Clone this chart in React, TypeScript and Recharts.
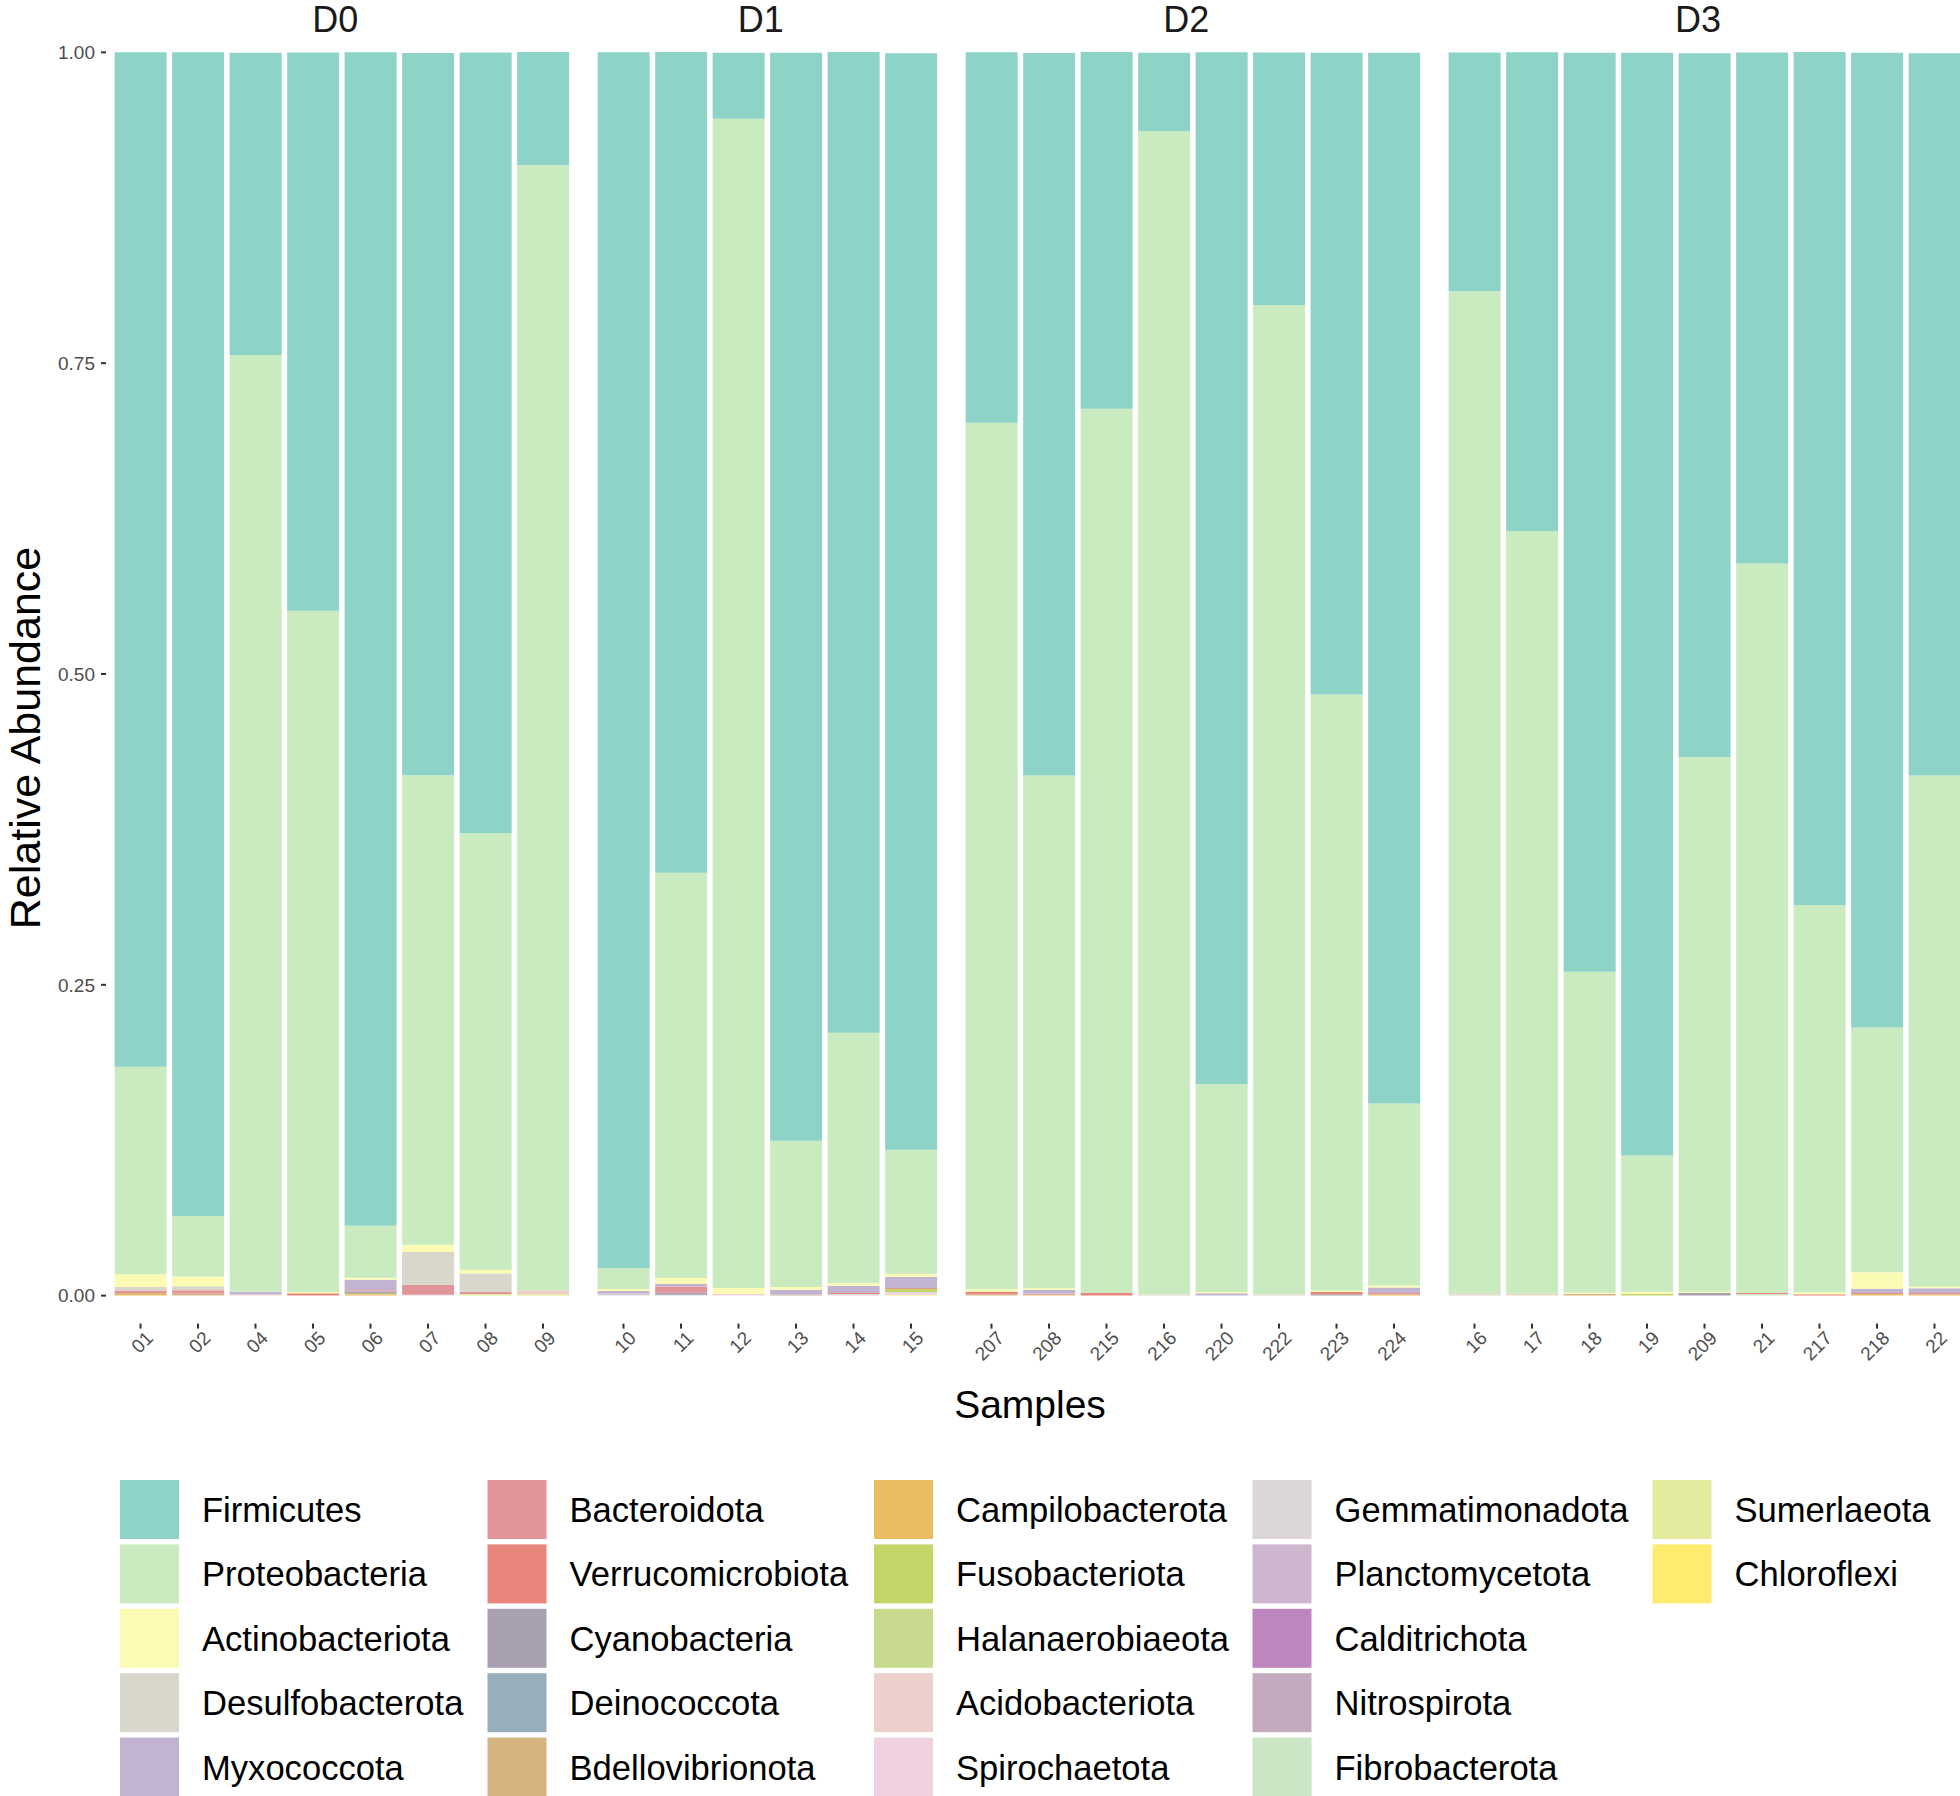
import { Bar, BarChart, XAxis, YAxis } from 'recharts';

// samples in facet order
const samples = ['01', '02', '04', '05', '06', '07', '08', '09', '10', '11', '12', '13', '14', '15', '207', '208', '215', '216', '220', '222', '223', '224', '16', '17', '18', '19', '209', '21', '217', '218', '22'];
const groups = ['D0', 'D1', 'D2', 'D3'];
const groupSizes = [8, 6, 8, 9];
const yTicks = [0, 0.25, 0.5, 0.75, 1];

// relative abundance per phylum, same order as samples
const firmicutes = [0.816, 0.936, 0.243, 0.449, 0.944, 0.581, 0.628, 0.091, 0.978, 0.66, 0.053, 0.875, 0.789, 0.882, 0.298, 0.581, 0.287, 0.063, 0.83, 0.203, 0.516, 0.845, 0.192, 0.385, 0.739, 0.887, 0.566, 0.411, 0.686, 0.784, 0.581];
const proteobacteria = [0.167, 0.0487, 0.7535, 0.548, 0.0418, 0.3775, 0.351, 0.905, 0.0167, 0.326, 0.9406, 0.1177, 0.2015, 0.0997, 0.697, 0.4125, 0.711, 0.9356, 0.167, 0.7958, 0.4795, 0.1465, 0.806, 0.6135, 0.2582, 0.1095, 0.43, 0.5865, 0.3115, 0.197, 0.411];
const actinobacteriota = [0.0102, 0.0078, 0, 0.001, 0.0016, 0.0059, 0.0032, 0, 0.0016, 0.0048, 0.0048, 0.0021, 0.0019, 0.0027, 0.0019, 0.0013, 0, 0, 0.001, 0, 0.0011, 0.0016, 0, 0, 0.0008, 0.0016, 0.0011, 0, 0.0016, 0.0131, 0.0013];
const desulfobacterota = [0.0027, 0.0032, 0, 0, 0, 0.0263, 0.0145, 0, 0, 0, 0, 0, 0, 0, 0, 0, 0, 0, 0, 0, 0, 0, 0, 0, 0, 0, 0, 0, 0, 0, 0];
const myxococcota = [0, 0, 0.0021, 0, 0.0083, 0, 0, 0, 0.0021, 0.002, 0, 0.004, 0.0059, 0.0088, 0, 0.003, 0, 0, 0.002, 0, 0, 0.0043, 0, 0, 0, 0, 0, 0, 0, 0.0035, 0.0038];
const bacteroidota = [0.0021, 0.0027, 0, 0, 0.0011, 0.008, 0.0019, 0, 0, 0.0051, 0, 0, 0, 0.0008, 0, 0.0008, 0, 0, 0, 0, 0, 0.0011, 0, 0, 0, 0, 0, 0, 0, 0.0008, 0.0011];
const verrucomicrobiota = [0, 0, 0, 0.0019, 0, 0, 0, 0, 0, 0, 0, 0, 0.0008, 0, 0.0021, 0, 0.0024, 0, 0, 0, 0.0019, 0, 0, 0, 0, 0, 0, 0.0011, 0.0011, 0, 0];
const cyanobacteria = [0, 0, 0, 0, 0, 0, 0, 0, 0, 0.0015, 0, 0, 0, 0, 0, 0, 0, 0, 0, 0, 0.0011, 0, 0, 0, 0, 0, 0.0021, 0, 0, 0, 0];
const deinococcota = [0, 0, 0, 0, 0.0011, 0, 0, 0, 0, 0, 0, 0, 0, 0, 0, 0, 0, 0, 0, 0, 0, 0, 0, 0, 0, 0, 0, 0, 0, 0, 0];
const bdellovibrionota = [0.0008, 0.0016, 0, 0, 0.0011, 0, 0, 0, 0, 0, 0, 0.0008, 0, 0, 0.0011, 0, 0, 0, 0, 0, 0, 0, 0, 0, 0.0016, 0, 0, 0, 0, 0, 0];
const campilobacterota = [0.0013, 0, 0, 0, 0.0011, 0, 0, 0, 0, 0, 0, 0, 0, 0, 0, 0.0008, 0, 0, 0, 0, 0, 0.0011, 0, 0, 0, 0, 0, 0, 0, 0.0013, 0.0011];
const fusobacteriota = [0, 0, 0, 0, 0, 0, 0, 0, 0, 0, 0, 0, 0, 0.0024, 0, 0, 0, 0, 0, 0, 0, 0, 0, 0, 0, 0.0016, 0, 0, 0, 0, 0];
const halanaerobiaeota = [0, 0, 0, 0, 0, 0, 0, 0, 0, 0, 0, 0, 0, 0, 0, 0, 0, 0, 0, 0, 0, 0, 0, 0, 0, 0, 0, 0, 0, 0, 0];
const acidobacteriota = [0, 0, 0.001, 0, 0, 0, 0, 0.003, 0, 0, 0, 0, 0, 0, 0, 0, 0, 0.001, 0, 0.001, 0, 0, 0.0011, 0.0011, 0, 0, 0, 0, 0, 0, 0];
const spirochaetota = [0, 0, 0, 0, 0, 0, 0, 0, 0, 0, 0.0013, 0, 0, 0.0013, 0, 0, 0, 0, 0, 0, 0, 0, 0, 0, 0, 0, 0, 0, 0, 0, 0];
const gemmatimonadota = [0, 0, 0, 0, 0, 0.0008, 0, 0, 0.0016, 0.0008, 0, 0, 0.0013, 0.0008, 0, 0, 0, 0, 0, 0, 0, 0, 0, 0, 0, 0, 0, 0, 0, 0, 0];
const planctomycetota = [0, 0, 0, 0, 0, 0, 0, 0, 0, 0, 0, 0, 0, 0, 0, 0, 0, 0, 0, 0, 0, 0, 0, 0, 0, 0, 0, 0, 0, 0, 0];
const calditrichota = [0, 0, 0, 0, 0, 0, 0, 0, 0, 0, 0, 0, 0, 0, 0, 0, 0, 0, 0, 0, 0, 0, 0, 0, 0, 0, 0, 0, 0, 0, 0];
const nitrospirota = [0, 0, 0, 0, 0, 0, 0, 0, 0, 0, 0, 0, 0, 0, 0, 0, 0, 0, 0, 0, 0, 0, 0, 0, 0, 0, 0, 0, 0, 0, 0];
const fibrobacterota = [0, 0, 0, 0, 0, 0, 0, 0, 0, 0, 0, 0, 0, 0, 0, 0, 0, 0, 0, 0, 0, 0, 0.0008, 0, 0, 0, 0, 0.0013, 0, 0, 0];
const sumerlaeota = [0, 0, 0, 0, 0, 0, 0.0013, 0.0013, 0, 0, 0, 0, 0, 0, 0, 0, 0, 0, 0, 0, 0, 0, 0, 0.0005, 0, 0, 0, 0, 0, 0, 0];
const chloroflexi = [0, 0, 0, 0, 0, 0, 0, 0, 0, 0, 0, 0, 0, 0.0008, 0, 0, 0, 0, 0, 0, 0, 0, 0, 0, 0, 0, 0, 0, 0, 0, 0];

// legend order (top of stack first)
const phyla = [
  { name: 'Firmicutes', values: firmicutes, color: '#8DD3C7' },
  { name: 'Proteobacteria', values: proteobacteria, color: '#CAEBC0' },
  { name: 'Actinobacteriota', values: actinobacteriota, color: '#FBFBB4' },
  { name: 'Desulfobacterota', values: desulfobacterota, color: '#D9D7CB' },
  { name: 'Myxococcota', values: myxococcota, color: '#C2B4D1' },
  { name: 'Bacteroidota', values: bacteroidota, color: '#E29599' },
  { name: 'Verrucomicrobiota', values: verrucomicrobiota, color: '#E9867B' },
  { name: 'Cyanobacteria', values: cyanobacteria, color: '#A8A0B0' },
  { name: 'Deinococcota', values: deinococcota, color: '#97AFBC' },
  { name: 'Bdellovibrionota', values: bdellovibrionota, color: '#D8B382' },
  { name: 'Campilobacterota', values: campilobacterota, color: '#E9BC62' },
  { name: 'Fusobacteriota', values: fusobacteriota, color: '#C3D567' },
  { name: 'Halanaerobiaeota', values: halanaerobiaeota, color: '#C7DA8E' },
  { name: 'Acidobacteriota', values: acidobacteriota, color: '#EDCFCB' },
  { name: 'Spirochaetota', values: spirochaetota, color: '#EFD1E2' },
  { name: 'Gemmatimonadota', values: gemmatimonadota, color: '#DCD6D8' },
  { name: 'Planctomycetota', values: planctomycetota, color: '#CEB6CE' },
  { name: 'Calditrichota', values: calditrichota, color: '#BE86BE' },
  { name: 'Nitrospirota', values: nitrospirota, color: '#C3AABF' },
  { name: 'Fibrobacterota', values: fibrobacterota, color: '#CCE5C4' },
  { name: 'Sumerlaeota', values: sumerlaeota, color: '#E3E99D' },
  { name: 'Chloroflexi', values: chloroflexi, color: '#FFEC6F' },
];

const rows = samples.map((sample, i) => {
  const row: Record<string, string | number> = { sample };
  phyla.forEach(p => {
    row[p.name] = p.values[i];
  });
  return row;
});

const FONT = '"Liberation Sans", Arial, sans-serif';
const PITCH = 57.5;
const PANEL_GAP = 11.5;
const PANEL_LEFT = 105.5;
const PLOT_TOP = 24.4;
const PLOT_BOTTOM = 1323.6;
const X_AXIS_H = 70;
const Y_AXIS_W = 80;
const CHART_H = PLOT_BOTTOM + X_AXIS_H;

const XTick = (props: any) => {
  const { x, y, payload } = props;
  return (
    <text transform={`translate(${x + 4},${y + 1}) rotate(-45)`} textAnchor='end' dy='0.72em' fontSize={19} fill='#4D4D4D' fontFamily={FONT}>
      {payload.value}
    </text>
  );
};

const Panel = ({ data, width, showY }: { data: any[]; width: number; showY: boolean }) => (
  <BarChart
    width={width + (showY ? Y_AXIS_W : 0)}
    height={CHART_H}
    data={data}
    margin={{ top: PLOT_TOP, right: 0, bottom: 0, left: 0 }}
    barCategoryGap='5%'
  >
    <XAxis
      dataKey='sample'
      interval={0}
      height={X_AXIS_H}
      axisLine={false}
      tickSize={5}
      tickMargin={0}
      tickLine={{ stroke: '#333333', strokeWidth: 2 }}
      padding={{ left: PITCH * 0.1, right: PITCH * 0.1 }}
      tick={<XTick />}
    />
    <YAxis
      hide={!showY}
      width={Y_AXIS_W}
      domain={[-0.0225, 1.0225]}
      allowDataOverflow
      ticks={yTicks}
      tickFormatter={(v: number) => v.toFixed(2)}
      axisLine={false}
      tickSize={5}
      tickMargin={6}
      tickLine={{ stroke: '#333333', strokeWidth: 2 }}
      tick={{ fontSize: 19, fill: '#4D4D4D', fontFamily: FONT }}
    />
    {[...phyla].reverse().map(p => (
      <Bar key={p.name} dataKey={p.name} stackId='a' fill={p.color} isAnimationActive={false} />
    ))}
  </BarChart>
);

const Legend = () => {
  const colX = [120, 487.5, 874, 1252.5, 1652.5];
  return (
    <svg width={1960} height={360} style={{ position: 'absolute', left: 0, top: 1460 }}>
      {phyla.map((p, i) => {
        const col = Math.floor(i / 5);
        const row = i % 5;
        const x = colX[col];
        const y = 20 + row * 64.4;
        return (
          <g key={p.name}>
            <rect x={x} y={y} width={59} height={59} fill={p.color} />
            <text x={x + 82} y={y + 29.5} dy='0.36em' fontSize={34.6} fill='#000000' fontFamily={FONT}>
              {p.name}
            </text>
          </g>
        );
      })}
    </svg>
  );
};

export default function App() {
  let start = 0;
  let left = PANEL_LEFT;
  const panels = groups.map((g, gi) => {
    const n = groupSizes[gi];
    const width = (n + 0.2) * PITCH;
    const data = rows.slice(start, start + n);
    const panel = { name: g, data, width, left, showY: gi === 0 };
    start += n;
    left += width + PANEL_GAP;
    return panel;
  });

  return (
    <div style={{ position: 'absolute', left: 0, top: 0, width: 1960, height: 1796, overflow: 'hidden', background: '#ffffff' }}>
      {panels.map(p => (
        <div key={p.name} style={{ position: 'absolute', top: 0, left: p.showY ? p.left - Y_AXIS_W : p.left }}>
          <Panel data={p.data} width={p.width} showY={p.showY} />
        </div>
      ))}
      <svg width={1960} height={1460} style={{ position: 'absolute', left: 0, top: 0, pointerEvents: 'none' }}>
        {panels.map(p => (
          <text key={p.name} x={p.left + p.width / 2 - 6} y={32} textAnchor='middle' fontSize={36} fill='#1A1A1A' fontFamily={FONT}>
            {p.name}
          </text>
        ))}
        <text x={1030} y={1418} textAnchor='middle' fontSize={39} fill='#000000' fontFamily={FONT}>
          Samples
        </text>
        <text transform='translate(40,738) rotate(-90)' textAnchor='middle' fontSize={43} fill='#000000' fontFamily={FONT}>
          Relative Abundance
        </text>
      </svg>
      <Legend />
    </div>
  );
}
